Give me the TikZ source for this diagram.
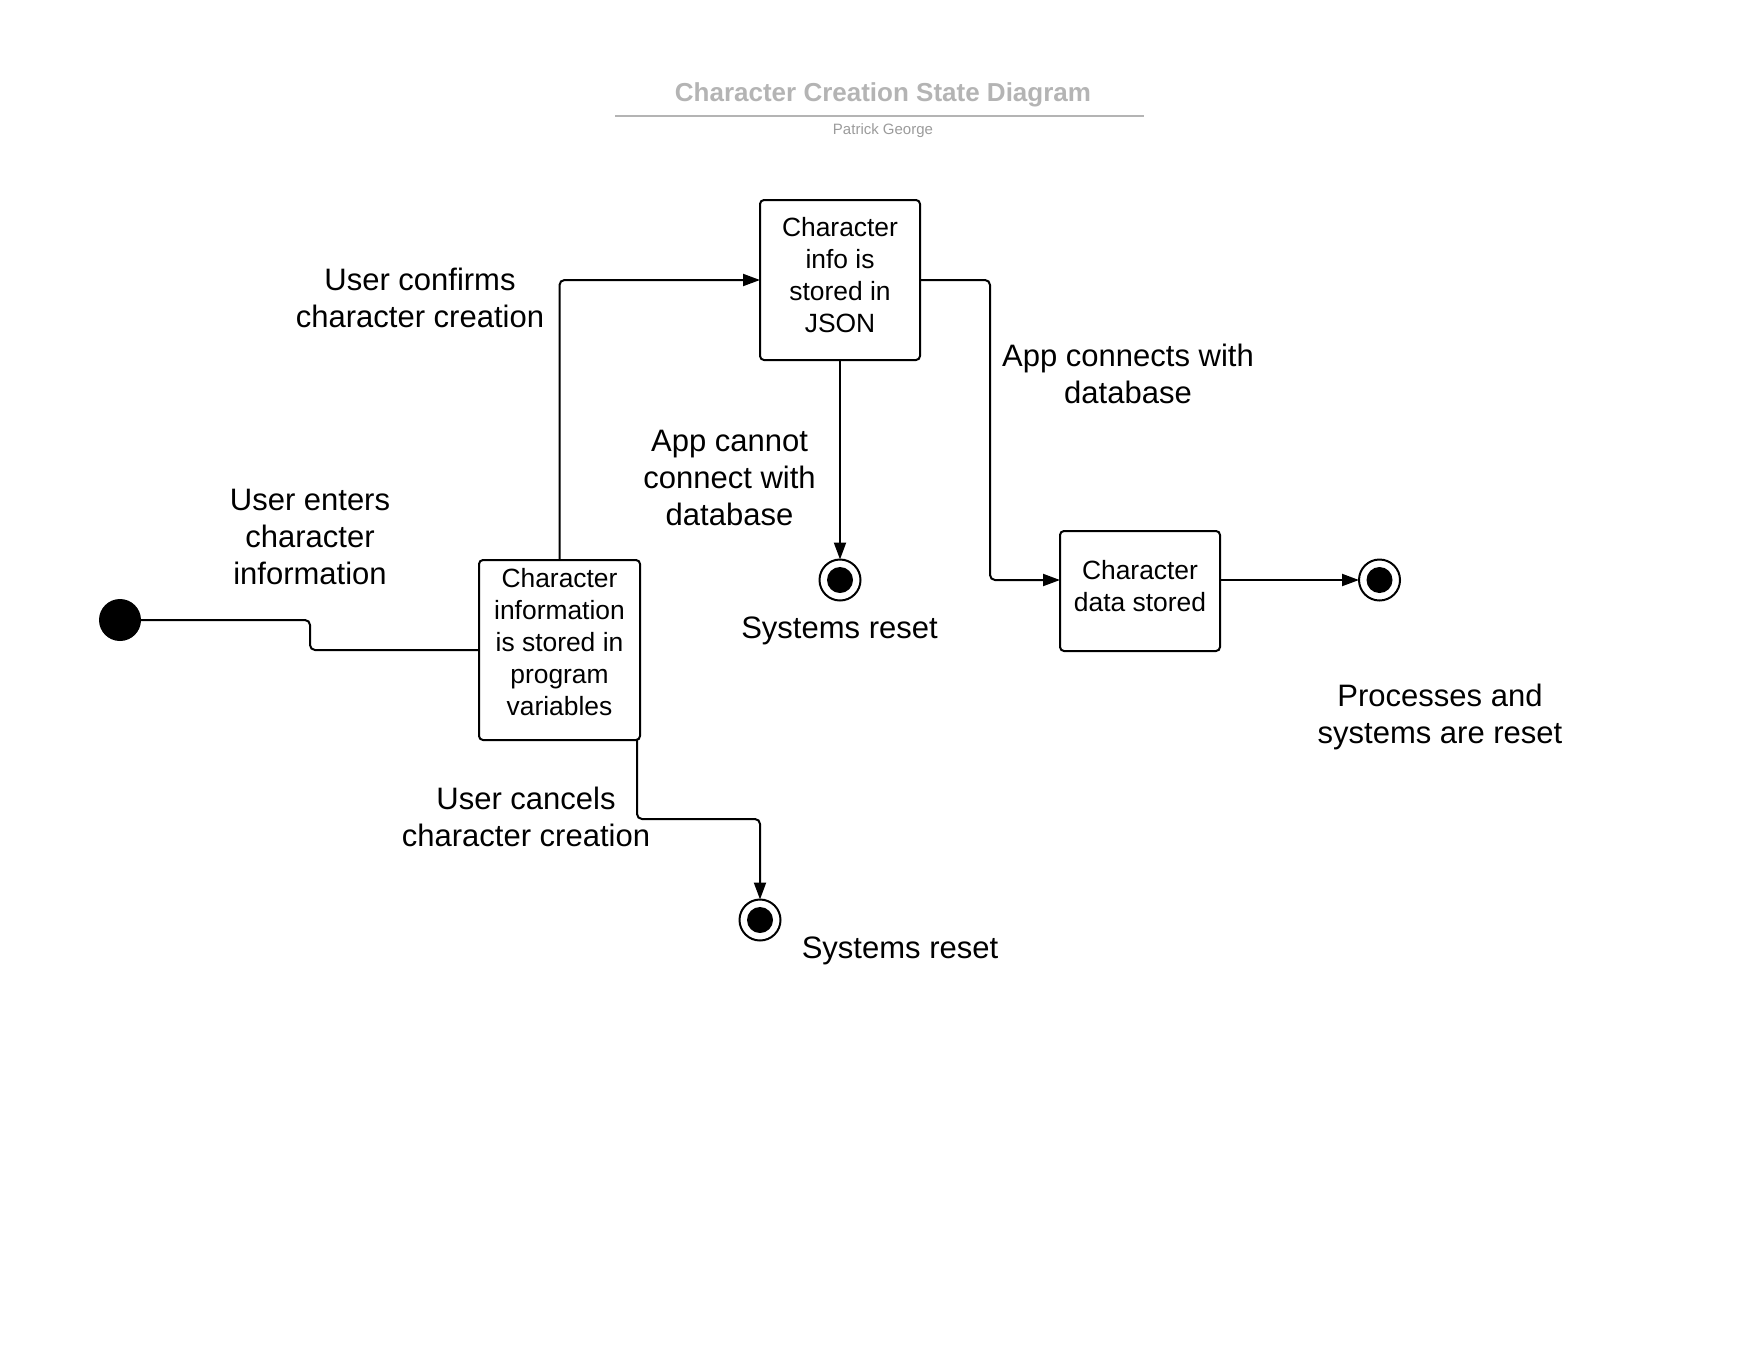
\documentclass[tikz,border=0pt]{standalone}
\usepackage{fontspec}
\setmainfont{Liberation Sans}
\usetikzlibrary{arrows.meta}
\definecolor{titlegray}{RGB}{180,180,180}
\definecolor{subgray}{RGB}{155,155,155}
\begin{document}
\begin{tikzpicture}[x=1pt,y=-1pt,
  every node/.style={inner sep=0pt, outer sep=0pt},
  statebox/.style={draw, line width=2pt, rounded corners=4pt, fill=white},
  boxtext/.style={align=center, font=\fontsize{26.4}{31.8}\selectfont},
  lbl/.style={align=center, font=\fontsize{31}{37}\selectfont},
  conn/.style={line width=2pt, rounded corners=5pt},
  arr/.style={conn, -{Triangle[length=17pt,width=12pt]}},
  initial/.style={circle, fill=black, minimum size=42pt},
  final/.style={circle, draw, line width=2pt, fill=white, minimum size=41pt,
    path picture={\fill[black] (path picture bounding box.center) circle (13pt);}},
]
\useasboundingbox (0,0) rectangle (1760,1360);

% heading
\node[font=\bfseries\fontsize{26}{31}\selectfont, text=titlegray] (title) at (883,94.5) {Character Creation State Diagram};
\draw[titlegray, line width=2pt] (615,115.6) -- (1144,115.6);
\node[font=\fontsize{15}{18}\selectfont, text=subgray] (author) at (883,130.5) {Patrick George};

% states
\node[initial] (init) at (120,620) {};
\node[statebox, minimum width=161pt, minimum height=180pt,
  label={[boxtext, yshift=8pt]center:{Character\\information\\is stored in\\program\\variables}}] (A) at (559.5,650) {};
\node[statebox, minimum width=160pt, minimum height=160pt,
  label={[boxtext, yshift=5pt]center:{Character\\info is\\stored in\\JSON}}] (B) at (840,280) {};
\node[statebox, minimum width=160pt, minimum height=120pt,
  label={[boxtext, yshift=5pt]center:{Character\\data stored}}] (C) at (1140,591) {};
\node[final] (E1) at (840,580) {};
\node[final] (E2) at (1379.5,580) {};
\node[final] (E3) at (760,920) {};

% transitions
\draw[conn] (init.east) -- (310,0 |- init.east) |- (A.west);
\draw[arr] (A.north) |- (B.west);
\draw[arr] (B.south) -- (E1.north);
\draw[arr] (B.east) -- (990,0 |- B.east) |- (C.west |- E2.west);
\draw[arr] (C.east |- E2.west) -- (E2.west);
\draw[arr] ([xshift=-3pt]A.south east) -- ++(0,79) -| (E3.north);

% transition and state captions
\node[lbl] (tConfirm) at (420,297.5) {User confirms\\character creation};
\node[lbl] (tEnter) at (310,536.5) {User enters\\character\\information};
\node[lbl] (tFail) at (729.5,477.5) {App cannot\\connect with\\database};
\node[lbl] (tReset1) at (839.5,630.5) {Systems reset};
\node[lbl] (tConnect) at (1128,373.5) {App connects with\\database};
\node[lbl] (tDone) at (1440,717) {Processes and\\systems are reset};
\node[lbl] (tCancel) at (526,816.5) {User cancels\\character creation};
\node[lbl] (tReset2) at (900,950.5) {Systems reset};
\end{tikzpicture}
\end{document}
